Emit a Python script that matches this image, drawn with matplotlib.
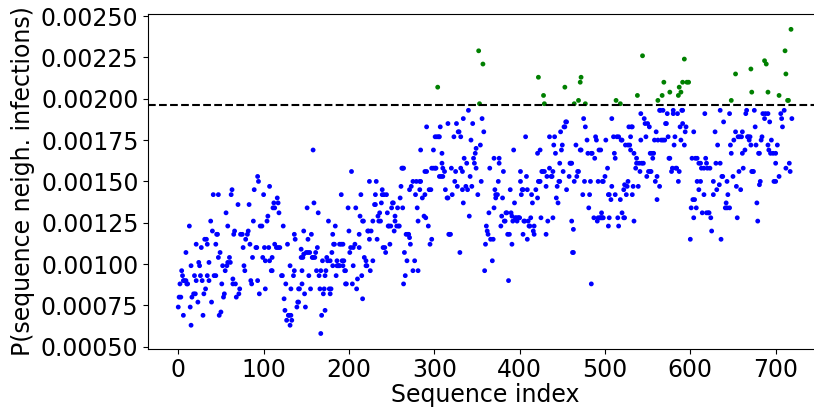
import matplotlib
matplotlib.use("Agg")
import matplotlib.pyplot as plt

# (sequence index, probability in units of 1e-5)
seg_000 = [(1,80),(3,80),(0,74),(6,69),(2,88),(4,96),(5,93),(7,90),(9,90),(6,90),(10,88),(11,88),(9,107),
           (13,123),(15,99),(15,63),(14,74),(16,80),(18,82),(20,82),(19,93),(21,90),(21,112),(24,101),(25,99),
           (23,77),(26,93),(28,90),(27,110),(29,69),(30,82),(32,85),(31,115),(33,115),(34,112),(34,93),(36,90),
           (36,101),(39,77),(40,120),(38,126),(41,142),(42,93),(44,93),(44,112),(45,118),(47,142),(46,118),
           (47,104),(49,107),(48,69),(50,71),(51,88),(53,80),(52,99),(54,82),(55,96),(57,99),(56,131),(58,123),
           (58,101),(60,104),(61,101),(62,142),(63,145),(64,88),(64,91),(65,118),(66,120),(67,88),(68,80),
           (70,136),(71,82),(72,85),(73,118),(75,118),(76,110),(77,99),(78,96),(79,115),(81,118),(82,120),
           (83,136),(84,112),(85,90),(86,88),(87,104),(88,126),(89,145),(91,110),(92,110),(93,90),(93,153),
           (94,150),(95,82),(96,123)]
seg_100 = [(98,123),(100,142),(99,104),(101,110),(102,85),(102,102),(104,126),(105,129),(106,110),(107,147),
           (107,102),(109,96),(110,96),(110,104),(112,137),(111,134),(113,134),(113,112),(115,110),(116,140),
           (117,137),(117,110),(118,131),(119,110),(121,93),(122,93),(123,123),(124,79),(125,72),(126,88),
           (127,66),(128,112),(129,69),(130,69),(131,99),(131,63),(132,85),(132,69),(133,66),(135,93),(136,118),
           (136,96),(137,115),(139,74),(140,77),(141,77),(141,85),(142,85),(144,104),(144,109),(145,88),(145,96),
           (146,104),(147,106),(147,120),(148,82),(149,74),(150,107),(151,134),(152,107),(152,115),(153,93),
           (154,107),(155,85),(156,118),(157,104),(158,104),(158,169),(159,137),(160,104),(161,107),(162,96),
           (163,110),(164,131),(165,93),(166,85),(167,96),(168,69),(167,58),(169,102),(170,82),(171,85),(172,72),
           (172,93),(173,96),(174,104),(175,102),(176,126),(177,85),(178,102),(178,82),(179,85),(180,107),
           (181,99),(181,118),(182,112),(183,112),(184,123),(185,93),(186,102),(186,99),(187,99),(188,99),
           (189,112),(189,99),(191,142),(191,112),(192,102),(193,99),(193,112),(194,102),(195,96),(196,88)]
seg_200 = [(196,96),(197,88),(199,134),(200,120),(201,107),(202,110),(203,156),(204,88),(205,110),(205,99),
           (207,112),(208,134),(209,85),(210,91),(212,118),(212,110),(213,129),(214,142),(215,93),(216,126),
           (217,126),(216,79),(218,104),(220,102),(220,99),(221,99),(222,120),(223,120),(224,150),(224,115),
           (225,96),(226,120),(228,126),(228,102),(230,136),(231,142),(231,136),(232,150),(233,115),(234,129),
           (235,126),(236,131),(237,126),(238,137),(239,142),(239,145),(240,110),(241,142),(242,110),(243,107),
           (244,142),(245,131),(246,123),(247,123),(248,112),(249,123),(250,134),(251,137),(252,137),(253,120),
           (254,126),(254,129),(256,123),(257,134),(258,123),(259,123),(260,140),(261,147),(262,158),(263,158),
           (263,134),(264,88),(264,158),(265,107),(266,93),(267,118),(268,102),(269,118),(270,118),(271,145),
           (271,116),(272,112),(273,147),(275,150),(275,96),(277,102),(278,142),(279,150),(280,134),(281,126),
           (281,96),(283,145),(283,150),(284,150),(284,169),(286,140),(288,129),(289,142),(289,156)]
seg_300 = [(291,183),(291,156),(290,128),(293,123),(295,112),(297,115),(296,145),(294,145),(299,169),(297,158),
           (299,158),(301,158),(302,158),(301,177),(303,177),(305,177),(306,177),(307,183),(308,153),(306,153),
           (309,167),(309,161),(310,153),(310,158),(312,156),(313,145),(315,140),(316,140),(316,185),(317,118),
           (318,118),(319,118),(320,158),(321,142),(323,177),(324,150),(325,156),(326,185),(327,147),(328,180),
           (329,180),(330,107),(331,177),(331,158),(333,145),(333,156),(334,188),(334,137),(335,164),(337,147),
           (338,161),(339,145),(340,193),(341,129),(342,153),(343,175),(344,147),(345,185),(346,164),(347,161),
           (348,167),(349,158),(349,170),(351,142),(354,172),(355,150),(356,188),(358,180),(359,96),(360,112),
           (361,123),(362,120),(363,118),(364,131),(365,158),(366,115),(368,102),(369,115),(370,134),(370,164),
           (371,145),(372,142),(372,140),(374,142),(375,150),(376,164),(376,161),(378,123),(379,129),(380,140),
           (381,156),(382,126),(383,126),(384,131),(385,131),(386,118),(387,90),(388,118),(389,145),(390,131),
           (391,112),(391,129),(392,126),(393,169),(394,137),
           (304,207),(352,229),(357,221),(353,197)]
seg_400 = [(395,128),(396,128),(397,126),(398,128),(399,128),(400,128),(401,150),(401,156),(402,142),(403,145),
           (404,118),(404,145),(405,126),(406,126),(407,177),(408,153),(409,145),(409,115),(410,126),(411,123),
           (412,123),(413,128),(414,142),(415,137),(416,120),(417,123),(417,118),(419,145),(421,167),(421,140),
           (422,150),(423,150),(424,150),(424,169),(425,128),(426,156),(427,156),(429,156),(431,147),(431,118),
           (432,153),(433,126),(435,158),(435,177),(437,153),(438,153),(439,156),(439,128),(440,172),(441,177),
           (442,167),(443,140),(444,147),(445,137),(446,150),(447,150),(447,161),(448,180),(449,169),(450,172),
           (451,156),(452,183),(453,183),(454,186),(455,186),(455,145),(458,153),(459,161),(460,161),(461,126),
           (461,161),(462,107),(463,121),(463,107),(464,150),(466,172),(467,153),(468,156),(469,156),(471,169),
           (472,169),(474,142),(475,188),(476,150),(477,183),(479,175),(480,167),(481,134),(482,142),(483,150),
           (484,167),(484,88),(485,167),(487,128),(488,164),(489,177),(490,175),(491,126),(492,128),(492,150),
           (493,169),(494,128),
           (422,213),(428,202),(429,197),(453,207),(472,213),(471,210),(469,199),(464,197),(477,197)]
seg_500 = [(495,128),(495,169),(496,128),(496,131),(497,150),(497,128),(498,150),(498,128),(500,153),(501,175),
           (503,158),(504,142),(504,123),(505,142),(505,128),(507,139),(508,188),(508,147),(510,177),(511,167),
           (512,142),(512,164),(514,177),(515,128),(516,177),(516,123),(518,139),(519,175),(520,175),(520,131),
           (522,145),(522,128),(523,148),(523,128),(524,172),(525,142),(526,147),(527,150),(527,172),(528,183),
           (529,172),(530,169),(530,177),(531,183),(532,183),(532,142),(533,147),(534,126),(534,167),(536,158),
           (537,164),(537,161),(539,147),(540,161),(541,156),(542,175),(542,191),(543,161),(545,161),(546,188),
           (547,185),(548,177),(549,153),(550,185),(551,156),(552,183),(553,156),(553,167),(554,156),(555,167),
           (556,164),(557,167),(558,175),(559,150),(560,180),(561,139),(561,153),(562,175),(564,193),(564,147),
           (565,193),(566,175),(568,193),(568,175),(570,175),(571,185),(572,185),(573,191),(574,177),(575,164),
           (576,164),(578,156),(579,158),(580,193),(580,191),(581,172),(582,177),(583,158),(584,158),(585,191),
           (586,150),(587,156),(588,183),(589,175),(590,193),(591,193),(591,185),(593,172),(594,180),
           (544,226),(513,199),(518,197),(538,202),(562,199),(567,202),(569,210),(576,204),(586,202),(587,207),
           (589,204),(591,210),(593,224),(596,210),(598,210)]
seg_600 = [(595,183),(604,180),(602,164),(606,164),(608,164),(610,161),(612,161),(613,158),(616,158),(618,164),
           (619,161),(620,158),(623,158),(616,142),(610,145),(608,150),(612,150),(603,139),(605,139),(601,134),
           (607,134),(604,128),(614,131),(619,131),(621,131),(622,131),(624,128),(625,120),(600,115),(617,191),
           (627,150),(627,142),(629,180),(630,161),(631,145),(632,172),(634,148),(635,193),(635,161),(637,153),
           (638,153),(636,115),(639,186),(641,134),(642,137),(643,134),(643,150),(644,142),(646,191),(646,134),
           (647,172),(648,167),(650,153),(651,175),(653,180),(654,147),(655,128),(656,177),(657,156),(658,177),
           (659,145),(660,177),(661,180),(661,167),(662,158),(664,169),(665,191),(666,193),(667,177),(668,177),
           (669,175),(670,177),(671,172),(672,156),(673,156),(674,156),(675,193),(676,183),(677,172),(678,137),
           (679,126),(680,167),(681,167),(681,148),(682,150),(683,175),(684,177),(685,191),(687,188),(688,191),
           (691,191),(691,172),(692,169),(693,186),
           (695,175),(694,167),(697,167),(700,167),(702,172),(700,161),(698,150),(700,150),(704,153),(707,188),
           (706,191),(708,183),(710,193),(719,188),(712,158),(717,156),(716,161),
           (648,199),(653,215),(671,218),(672,204),(687,223),(689,221),(691,204),(704,202),(711,229),(712,215),
           (714,199),(715,199),(718,242)]

UNIT = 1e-5
threshold = 0.00196

segments = [seg_000, seg_100, seg_200, seg_300, seg_400, seg_500, seg_600]
points = sorted(p for seg in segments for p in seg)
seq_index = [p[0] for p in points]
prob = [p[1] * UNIT for p in points]
colors = ["green" if v > threshold else "blue" for v in prob]

plt.rcParams["font.family"] = ["DejaVu Sans"]
fig = plt.figure(figsize=(8.14, 4.09), dpi=100)
ax = fig.add_axes([0.1813, 0.1474, 0.8292, 0.8181])
ax.scatter(seq_index, prob, c=colors, s=12, linewidths=0)
ax.axhline(threshold, color="black", linestyle="--", linewidth=1.5)
ax.set_xlabel("Sequence index", fontsize=17, labelpad=1)
ax.set_ylabel("P(sequence neigh. infections)", fontsize=17, labelpad=4)
ax.tick_params(labelsize=17, pad=3)
ax.set_xticks([0, 100, 200, 300, 400, 500, 600, 700])
ax.set_yticks([0.0005, 0.00075, 0.001, 0.00125, 0.0015, 0.00175, 0.002, 0.00225, 0.0025])
ax.set_yticklabels(["0.00050", "0.00075", "0.00100", "0.00125", "0.00150", "0.00175",
                    "0.00200", "0.00225", "0.00250"])
fig.savefig("out.png", dpi=100)
